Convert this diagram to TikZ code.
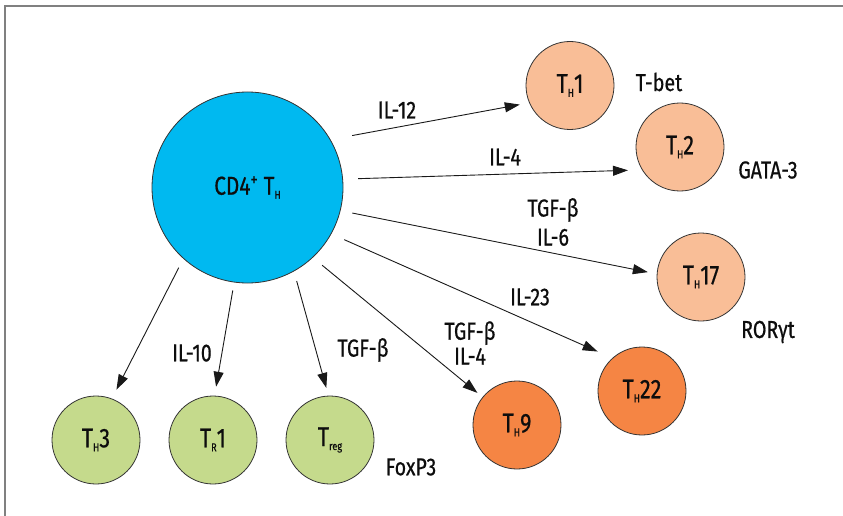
\documentclass[tikz,border=0pt]{standalone}
\usepackage{fontspec}
\setmainfont{Fira Sans}[FakeStretch=0.8,FakeBold=0.6]
\usepackage{tikz}
\usetikzlibrary{shapes,arrows.meta,calc,positioning}
\usepackage{xcolor}
\definecolor{cdblue}{RGB}{0,185,240}
\definecolor{peach}{RGB}{249,190,151}
\definecolor{tangerine}{RGB}{245,133,68}
\definecolor{leaf}{RGB}{197,218,140}
\newcommand{\lowsub}[1]{\raisebox{-4pt}{\fontsize{11.5}{12}\selectfont#1}}

\begin{document}
\begin{tikzpicture}[x=1pt,y=-1pt,
	  every node/.style={align=center,text=black!95,font=\fontsize{24.5}{29}\selectfont},
	  cell/.style={circle,draw=black!80,line width=0.8pt,inner sep=0pt,minimum size=88pt,font=\fontsize{27}{30}\selectfont},
	  naive/.style={cell,fill=cdblue,minimum size=191pt,font=\fontsize{26}{28}\selectfont},
	  effector/.style={cell,fill=peach},
	  helper/.style={cell,fill=tangerine},
	  regulator/.style={cell,fill=leaf},
	  to/.style={-{Triangle[length=15pt,width=10pt]},line width=0.9pt,draw=black!90}]

	  \useasboundingbox (0,0) rectangle (843,516);
	  \draw[black!50,line width=2pt] (5,516) -- (5,6) -- (843,6);

	  % Position the cells
	  \node[naive] (cd4) at (247.5,187.5) {CD4\textsuperscript{+} T\lowsub{H}};
	  \node[effector] (th1) at (570,85.5) {T\lowsub{H}1};
	  \node[effector] (th2) at (680,147) {T\lowsub{H}2};
	  \node[effector] (th17) at (701,277) {T\lowsub{H}17};
	  \node[helper] (th22) at (642,391) {T\lowsub{H}22};
	  \node[helper] (th9) at (517,425) {T\lowsub{H}9};
	  \node[regulator] (th3) at (96,440) {T\lowsub{H}3};
	  \node[regulator] (tr1) at (213,440) {T\lowsub{R}1};
	  \node[regulator] (treg) at (330,440) {T\lowsub{reg}};

	  % Transcription factors and cytokines
	  \node (tbet) at (659,82) {T-bet};
	  \node (gata) at (768,170) {GATA-3};
	  \node (ror) at (768,332) {RORγt};
	  \node (foxp) at (411,467) {FoxP3};
	  \node (il12) at (397,110) {IL-12};
	  \node (il4) at (505,157) {IL-4};
	  \node (tgfil6) at (553,222) {TGF-β\\IL-6};
	  \node (il23) at (530,297) {IL-23};
	  \node[font=\fontsize{24.5}{25}\selectfont] (tgfil4) at (470,343) {TGF-β\\IL-4};
	  \node (il10) at (192,353) {IL-10};
	  \node (tgf) at (363,350) {TGF-β};

	  \draw[to,shorten <=22pt,shorten >=9.5pt] (cd4.30) -- (th1.203);
	  \draw[to,shorten <=15pt,shorten >=14pt] (cd4.5) -- (th2.211);
	  \draw[to,shorten <=12pt,shorten >=9pt] (cd4.-14) -- (th17.176);
	  \draw[to,shorten <=14pt,shorten >=16pt] (cd4.-29) -- (th22.132);
	  \draw[to,shorten <=12pt,shorten >=6.5pt] (cd4.-47) -- (th9.141);
	  \draw[to,shorten <=10pt,shorten >=8pt] (cd4.-61) -- (treg.92);
	  \draw[to,shorten <=8pt,shorten >=9pt] (cd4.-98) -- (tr1.88);
	  \draw[to,shorten <=10pt,shorten >=10pt] (cd4.-132) -- (th3.69);
\end{tikzpicture}
\end{document}
